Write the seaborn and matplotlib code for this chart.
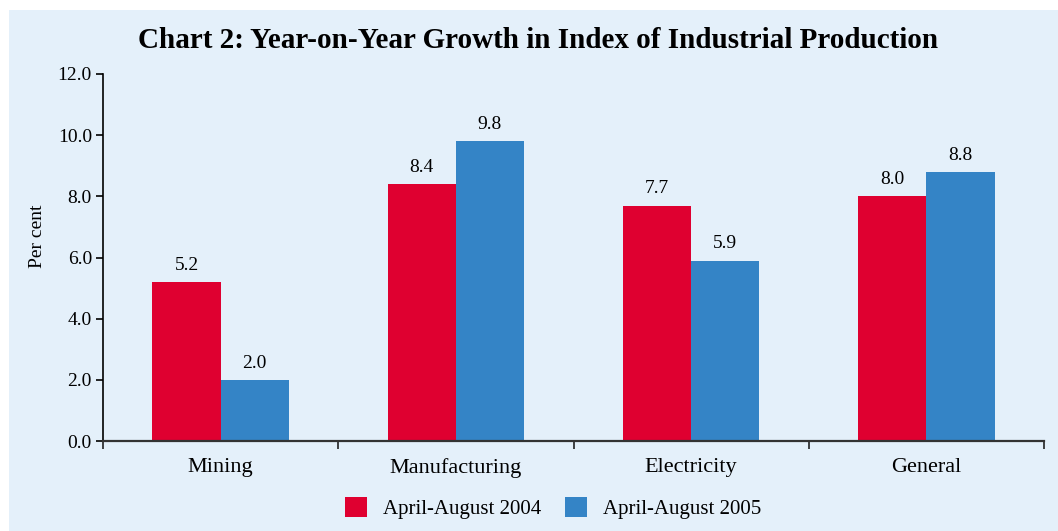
import matplotlib
matplotlib.use("Agg")
import matplotlib.pyplot as plt
import seaborn as sns
import pandas as pd
from matplotlib.patches import Rectangle

categories = ["Mining", "Manufacturing", "Electricity", "General"]
series_names = ["April-August 2004", "April-August 2005"]
values_2004 = [5.2, 8.4, 7.7, 8.0]
values_2005 = [2.0, 9.8, 5.9, 8.8]
yticks = [0.0, 2.0, 4.0, 6.0, 8.0, 10.0, 12.0]

df = pd.DataFrame({
    "Category": categories * 2,
    "Series": [series_names[0]] * 4 + [series_names[1]] * 4,
    "Value": values_2004 + values_2005,
})

sns.set_style("white")
plt.rcParams["font.family"] = ["Liberation Serif", "DejaVu Serif"]
plt.rcParams["text.color"] = "black"
plt.rcParams["axes.labelcolor"] = "black"
plt.rcParams["xtick.color"] = "black"
plt.rcParams["ytick.color"] = "black"

bg = "#E4F0FA"
colors = ["#DF0030", "#3484C6"]

fig = plt.figure(figsize=(10.58, 5.31), dpi=100, facecolor="white")
fig.patches.append(Rectangle((9 / 1058, 0), 1 - 9 / 1058, 1 - 10 / 531,
                             transform=fig.transFigure, facecolor=bg,
                             edgecolor="none", zorder=-10))
ax = fig.add_axes([103 / 1058, (531 - 441) / 531, (1044 - 103) / 1058, (441 - 74) / 531])
ax.set_facecolor("none")

sns.barplot(data=df, x="Category", y="Value", hue="Series", order=categories,
            hue_order=series_names, palette=colors, width=0.58, saturation=1,
            linewidth=0, ax=ax, legend=True)

for container in ax.containers:
    ax.bar_label(container, fmt="%.1f", padding=6, fontsize=14, color="black")

ax.set_xlim(-0.5, 3.5)
ax.set_ylim(0, 12)
ax.set_yticks(yticks)
ax.set_yticklabels([f"{v:.1f}" for v in yticks], fontsize=14)
ax.set_xticks(range(len(categories)))
ax.set_xticklabels(categories, fontsize=16)
ax.tick_params(axis="x", which="major", length=0, pad=12)
ax.set_xticks([-0.5, 0.5, 1.5, 2.5, 3.5], minor=True)
ax.tick_params(axis="x", which="minor", length=6, width=1.2, color="#222222", direction="out", bottom=True)
ax.tick_params(axis="y", length=5, width=1.2, color="black", direction="out", pad=3, left=True)
for s in ["top", "right"]:
    ax.spines[s].set_visible(False)
ax.spines["left"].set_color("black")
ax.spines["left"].set_linewidth(1.2)
ax.spines["bottom"].set_color("#333333")
ax.spines["bottom"].set_linewidth(1.6)
ax.set_xlabel("")
ax.set_ylabel("Per cent", fontsize=14)
ax.yaxis.set_label_coords(-(103 - 37) / (1044 - 103), (441 - 236) / (441 - 74))
ax.yaxis.label.set_va("center")

fig.text(538 / 1058, 1 - 40 / 531, "Chart 2: Year-on-Year Growth in Index of Industrial Production",
         ha="center", va="center", fontsize=21, fontweight="bold", color="black")

leg = ax.legend(loc="center", bbox_to_anchor=(553 / 1058, 1 - 508 / 531),
                bbox_transform=fig.transFigure, ncol=2, frameon=False,
                fontsize=15, handlelength=1.06, handleheight=1.06, handletextpad=0.77,
                columnspacing=1.15)
for h in leg.legend_handles:
    h.set_edgecolor("none")

fig.savefig("out.png", dpi=100, facecolor="white")
